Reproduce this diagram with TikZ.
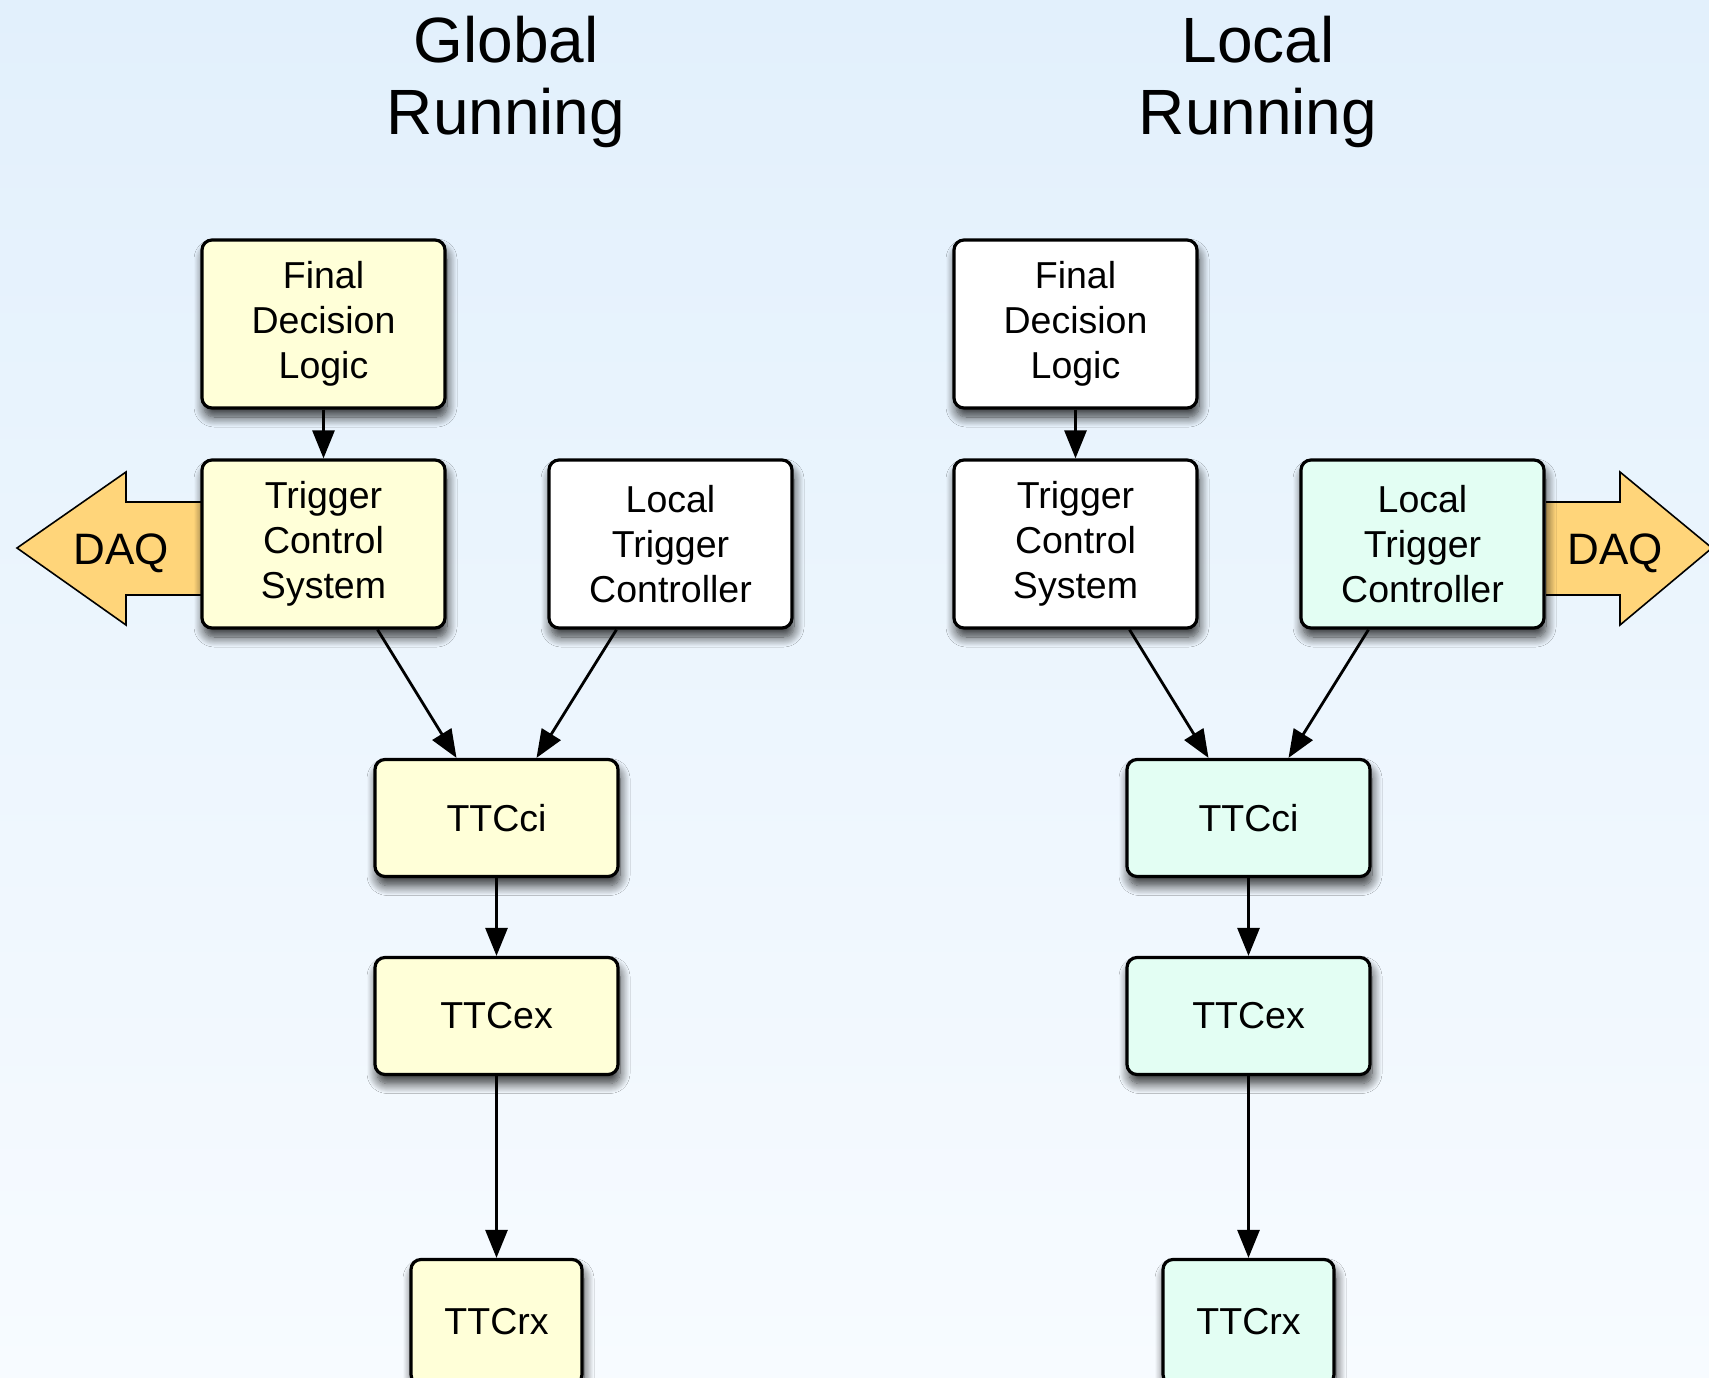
\documentclass[tikz,border=0pt]{standalone}
\usepackage{fontspec}
\setmainfont{Liberation Sans}
\usetikzlibrary{arrows.meta,shadows.blur}

\definecolor{bgtop}{HTML}{E2F0FC}
\definecolor{bgbot}{HTML}{F7FBFF}
\definecolor{globfill}{HTML}{FFFFD8}
\definecolor{locfill}{HTML}{E3FEF3}
\definecolor{daqfill}{HTML}{FFD57A}

\tikzset{
  blk/.style={draw,line width=3.2pt,rounded corners=10pt,fill=white,align=center,
    minimum width=243pt,minimum height=168pt,inner sep=0pt,
    font=\fontsize{37.5}{45}\selectfont,
    blur shadow={shadow xshift=2pt,shadow yshift=-9pt,shadow blur radius=10pt,
      shadow blur steps=12,shadow opacity=80}},
  ttcblk/.style={blk,minimum height=117pt},
  lnk/.style={line width=2.8pt,-{Triangle[length=28pt,width=22pt]}},
  daqarrow/.style={draw,line width=1.6pt,fill=daqfill},
  daqtext/.style={font=\fontsize{44}{48}\selectfont},
  title/.style={align=center,font=\fontsize{64}{72}\selectfont},
}

\begin{document}
\begin{tikzpicture}[x=1pt,y=-1pt]
  \useasboundingbox (0,0) rectangle (1709,1378);
  \clip (0,0) rectangle (1709,1378);
  \shade[top color=bgtop,bottom color=bgbot] (0,0) rectangle (1709,1378);

  % DAQ outputs
  \draw[daqarrow] (202,502) -- (126,502) -- (126,472) -- (17,548) -- (126,625) -- (126,595) -- (202,595);
  \node[daqtext] (gdaq) at (121,553) {DAQ};
  \draw[daqarrow] (1546,502) -- (1620,502) -- (1620,472) -- (1712,548) -- (1620,625) -- (1620,595) -- (1546,595);
  \node[daqtext] (ldaq) at (1615,553) {DAQ};

  % global running
  \node[title] (gtitle) at (506,82) {Global\\Running};
  \node[blk,fill=globfill] (gfdl) at (323.5,324) {Final\\Decision\\Logic};
  \node[blk,fill=globfill] (gtcs) at (323.5,544) {Trigger\\Control\\System};
  \node[blk] (gltc) at (670.5,544) {Local\\Trigger\\Controller};
  \node[ttcblk,fill=globfill] (gttcci) at (496.5,818) {TTCci};
  \node[ttcblk,fill=globfill] (gttcex) at (496.5,1016) {TTCex};
  \node[ttcblk,fill=globfill,minimum width=171pt,minimum height=125pt] (gttcrx) at (496.5,1322) {TTCrx};

  \draw[lnk] (gfdl) -- (gtcs);
  \draw[lnk] ([xshift=54pt]gtcs.south) -- ([xshift=-40pt]gttcci.north);
  \draw[lnk] ([xshift=-54pt]gltc.south) -- ([xshift=40pt]gttcci.north);
  \draw[lnk] (gttcci) -- (gttcex);
  \draw[lnk] (gttcex) -- (gttcrx);

  % local running
  \begin{scope}[xshift=752pt]
    \node[title] (ltitle) at (506,82) {Local\\Running};
    \node[blk] (lfdl) at (323.5,324) {Final\\Decision\\Logic};
    \node[blk] (ltcs) at (323.5,544) {Trigger\\Control\\System};
    \node[blk,fill=locfill] (lltc) at (670.5,544) {Local\\Trigger\\Controller};
    \node[ttcblk,fill=locfill] (lttcci) at (496.5,818) {TTCci};
    \node[ttcblk,fill=locfill] (lttcex) at (496.5,1016) {TTCex};
    \node[ttcblk,fill=locfill,minimum width=171pt,minimum height=125pt] (lttcrx) at (496.5,1322) {TTCrx};

    \draw[lnk] (lfdl) -- (ltcs);
    \draw[lnk] ([xshift=54pt]ltcs.south) -- ([xshift=-40pt]lttcci.north);
    \draw[lnk] ([xshift=-54pt]lltc.south) -- ([xshift=40pt]lttcci.north);
    \draw[lnk] (lttcci) -- (lttcex);
    \draw[lnk] (lttcex) -- (lttcrx);
  \end{scope}
\end{tikzpicture}
\end{document}
